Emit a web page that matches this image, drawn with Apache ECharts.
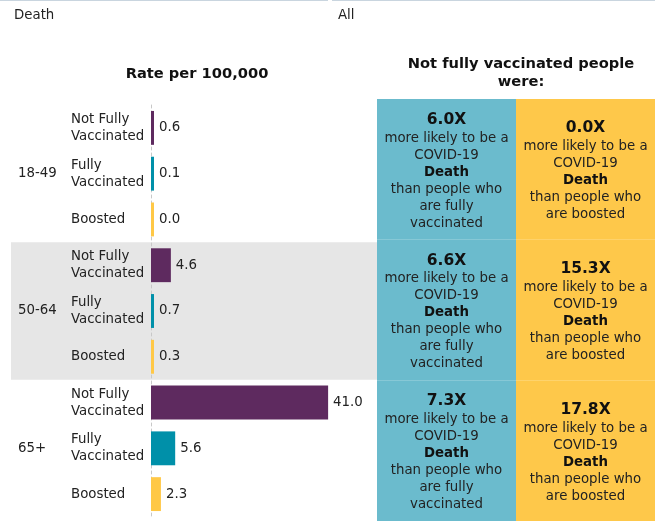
<!DOCTYPE html>
<html>
<head>
<meta charset="utf-8">
<script src="https://cdn.jsdelivr.net/npm/echarts@6/dist/echarts.min.js"></script>
<style>
  html, body { margin: 0; padding: 0; background: #fff; }
  #chart { width: 655px; height: 524px; }
</style>
</head>
<body>
<div id="chart"></div>
<script>
// Outcome shown and population filter
const measure = 'Death';
const population = 'All';

// Age groups and vaccination status rows
const ageGroups = ['18-49', '50-64', '65+'];
const statuses = ['Not Fully Vaccinated', 'Fully Vaccinated', 'Boosted'];

// Rate per 100,000 for each age group, in status order
const rates18to49 = [0.6, 0.1, 0.0];
const rates50to64 = [4.6, 0.7, 0.3];
const rates65plus = [41.0, 5.6, 2.3];

// How many times more likely not fully vaccinated people were, per age group
const timesVsFully = [6.0, 6.6, 7.3];
const timesVsBoosted = [0.0, 15.3, 17.8];

const FONT = 'DejaVu Sans';
const FS = 13.33;
const TEXT = '#222';
const statusColors = ['#5E2A5F', '#0090A9', '#FFC846'];
const panelColors = ['#6BBBCD', '#FEC84A'];

const rateRows = [rates18to49, rates50to64, rates65plus];

// One category per (age group, status) pair
const rowKeys = [];
const barData = [];
ageGroups.forEach((age, g) => {
  statuses.forEach((st, s) => {
    rowKeys.push(age + '|' + st);
    barData.push({ value: rateRows[g][s], itemStyle: { color: statusColors[s] } });
  });
});

// Comparison panel cells: column 0 = vs fully vaccinated, column 1 = vs boosted
const panelData = [];
ageGroups.forEach((age, g) => {
  panelData.push([0, g, timesVsFully[g]]);
  panelData.push([1, g, timesVsBoosted[g]]);
});

const chart = echarts.init(document.getElementById('chart'));

chart.setOption({
  animation: false,
  backgroundColor: '#fff',
  textStyle: { fontFamily: FONT },
  graphic: [
    { type: 'line', shape: { x1: 0, y1: 0.5, x2: 328, y2: 0.5 }, style: { stroke: '#C9D5DF', lineWidth: 1 } },
    { type: 'line', shape: { x1: 332, y1: 0.5, x2: 655, y2: 0.5 }, style: { stroke: '#C9D5DF', lineWidth: 1 } },
    { type: 'text', left: 14, top: 9, style: { text: measure, font: FS + 'px "DejaVu Sans"', fill: TEXT } },
    { type: 'text', left: 338, top: 9, style: { text: population, font: FS + 'px "DejaVu Sans"', fill: TEXT } }
  ],
  title: [
    {
      text: 'Rate per 100,000',
      left: 192, top: 62, textAlign: 'center',
      textStyle: { fontFamily: FONT, fontSize: 14.67, fontWeight: 'bold', color: '#111' }
    },
    {
      text: 'Not fully vaccinated people\nwere:',
      left: 516, top: 50, textAlign: 'center',
      textStyle: { fontFamily: FONT, fontSize: 14.67, fontWeight: 'bold', color: '#111', lineHeight: 18 }
    }
  ],
  grid: [
    { left: 151, top: 105, width: 216, height: 412, containLabel: false },
    { left: 377, top: 99, right: 0, height: 422, containLabel: false }
  ],
  xAxis: [
    { type: 'value', gridIndex: 0, min: 0, max: 50, show: false },
    { type: 'category', gridIndex: 1, data: ['fully', 'boosted'], show: false }
  ],
  yAxis: [
    {
      type: 'category', gridIndex: 0, data: rowKeys, inverse: true, position: 'left',
      axisLine: { show: true, lineStyle: { color: '#C8C8C8', type: [3, 3], width: 1 } },
      axisTick: { show: false },
      axisLabel: {
        align: 'left', margin: 80, fontSize: FS, lineHeight: 17, color: TEXT, fontFamily: FONT,
        formatter: (v) => v.split('|')[1].replace(' Vaccinated', '\nVaccinated')
      }
    },
    {
      type: 'category', gridIndex: 0, data: ageGroups, inverse: true, position: 'left',
      axisLine: { show: false }, axisTick: { show: false },
      axisLabel: { align: 'left', margin: 133, fontSize: FS, color: TEXT, fontFamily: FONT }
    },
    { type: 'category', gridIndex: 1, data: ageGroups, inverse: true, show: false }
  ],
  series: [
    {
      // shaded band behind alternate age groups
      type: 'custom',
      xAxisIndex: 0, yAxisIndex: 1,
      z: 0, silent: true, clip: false,
      data: ageGroups.map((a, i) => [0, i]).filter((d) => d[1] % 2 === 1),
      renderItem: (params, api) => {
        const c = api.coord([0, api.value(1)]);
        const s = api.size([0, 1]);
        return {
          type: 'rect',
          shape: { x: 11, y: c[1] - s[1] / 2, width: 366, height: s[1] },
          style: { fill: '#E6E6E6' }
        };
      }
    },
    {
      type: 'bar',
      xAxisIndex: 0, yAxisIndex: 0,
      z: 2,
      data: barData,
      barCategoryGap: '26%',
      barMinHeight: 3,
      label: {
        show: true, position: 'right', distance: 5,
        fontSize: FS, color: TEXT, fontFamily: FONT,
        formatter: (p) => p.value.toFixed(1)
      }
    },
    {
      type: 'custom',
      xAxisIndex: 1, yAxisIndex: 2,
      silent: true,
      data: panelData,
      renderItem: (params, api) => {
        const col = api.value(0);
        const c = api.coord([col, api.value(1)]);
        const s = api.size([1, 1]);
        const times = api.value(2).toFixed(1) + 'X';
        const tail = col === 0
          ? '{n|than people who}\n{n|are fully}\n{n|vaccinated}'
          : '{n|than people who}\n{n|are boosted}';
        return {
          type: 'group',
          children: [
            {
              type: 'rect',
              shape: { x: c[0] - s[0] / 2, y: c[1] - s[1] / 2, width: s[0], height: s[1] },
              style: { fill: panelColors[col] }
            },
            {
              type: 'text',
              x: c[0], y: c[1] + 1.5,
              style: {
                text: '{big|' + times + '}\n{n|more likely to be a}\n{n|COVID-19}\n{b|' + measure + '}\n' + tail,
                align: 'center', verticalAlign: 'middle', fill: TEXT,
                rich: {
                  big: { fontFamily: FONT, fontSize: 15.5, fontWeight: 'bold', lineHeight: 20, fill: '#111', align: 'center' },
                  n: { fontFamily: FONT, fontSize: FS, lineHeight: 17, fill: TEXT, align: 'center' },
                  b: { fontFamily: FONT, fontSize: FS, fontWeight: 'bold', lineHeight: 17, fill: '#111', align: 'center' }
                }
              }
            }
          ]
        };
      }
    }
  ]
});
</script>
</body>
</html>
